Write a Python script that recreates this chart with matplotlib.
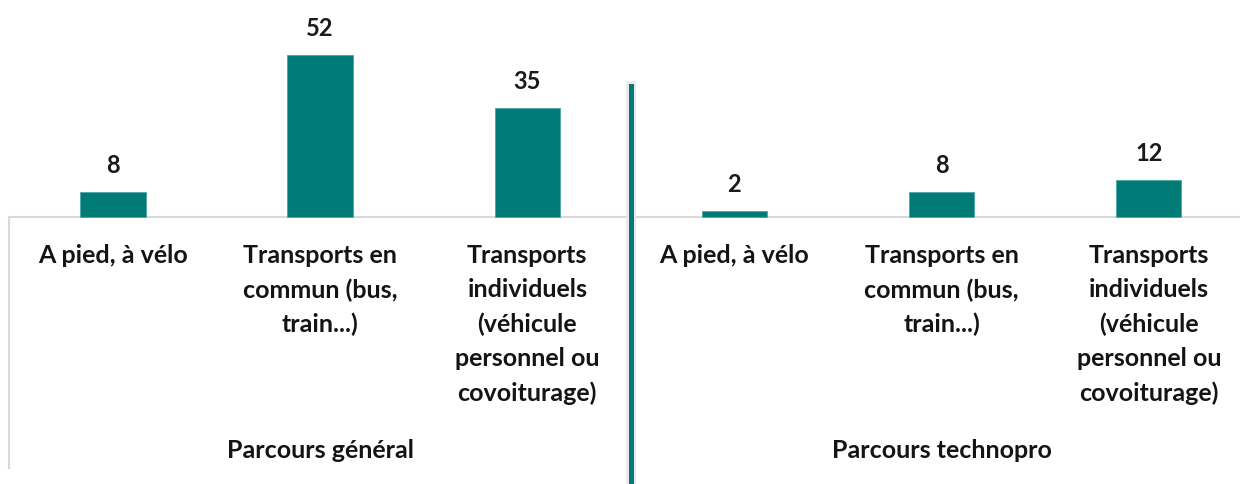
import matplotlib.pyplot as plt
from matplotlib.lines import Line2D

# survey answers, two groups of three transport modes
categories = ["A pied, à vélo",
              "Transports en\ncommun (bus,\ntrain...)",
              "Transports\nindividuels\n(véhicule\npersonnel ou\ncovoiturage)"]
groups = ["Parcours général", "Parcours technopro"]
values_general = [8, 52, 35]
values_technopro = [2, 8, 12]

teal = "#007b78"
plt.rcParams['font.family'] = ['Lato', 'DejaVu Sans']

fig = plt.figure(figsize=(12.4, 4.84), dpi=100)
ax = fig.add_axes([0, 0, 1, 1])

values = values_general + values_technopro
xs = list(range(len(values)))
bars = ax.bar(xs, values, width=0.315, color=teal, edgecolor="#4aa8a5", linewidth=0.6, zorder=3)

for x, v in zip(xs, values):
    ax.annotate(str(v), (x, v), xytext=(0, 19), textcoords="offset points",
                ha="center", va="center", fontsize=17, fontweight="bold", color="#1a1a1a")

# category labels under the baseline
labels = categories + categories
for x, lab in zip(xs, labels):
    ax.text(x, -8.6, lab, ha="center", va="top", fontsize=18, fontweight="bold",
            color="#141414", linespacing=1.58)

for i, g in enumerate(groups):
    ax.text(3 * i + 1, -75, g, ha="center", va="center", fontsize=18,
            fontweight="bold", color="#141414")

ax.set_xlim(-0.545, 5.44)
ax.set_ylim(-85.6, 69.6)
ax.axis("off")

# baseline and left border of the category axis
ax.plot([-0.5, 5.5], [0, 0], color="#d9d9d9", lw=1.5, zorder=2)
ax.plot([-0.5, -0.5], [0, -80.5], color="#d9d9d9", lw=1.5, zorder=2)

# separator between the two groups
fig.add_artist(Line2D([0.5085, 0.5085], [0, 0.822], color="#e8e8e8", lw=7))
fig.add_artist(Line2D([0.5085, 0.5085], [0, 0.822], color=teal, lw=3.6))

fig.savefig("out.png", dpi=100)
